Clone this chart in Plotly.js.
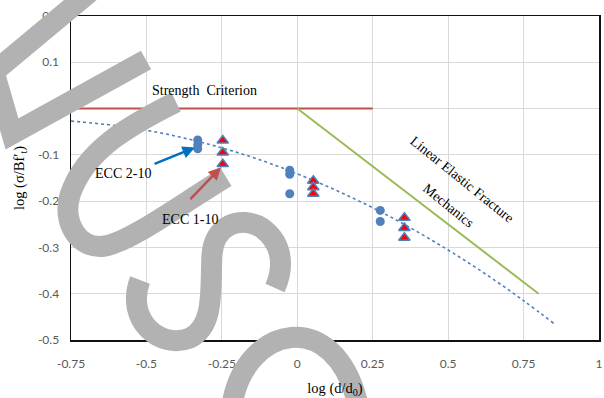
<!DOCTYPE html>
<html>
<head>
<meta charset="utf-8">
<script src="https://cdn.plot.ly/plotly-3.0.1.min.js"></script>
<style>html,body{margin:0;padding:0;background:#fff;}#chart{width:604px;height:398px;}</style>
</head>
<body>
<div id="chart"></div>
<script>
// ECC 2-10 (blue circles)
var ecc2X = [-0.33, -0.33, -0.33, -0.025, -0.025, -0.025, 0.275, 0.275];
var ecc2Y = [-0.068, -0.078, -0.087, -0.133, -0.142, -0.184, -0.220, -0.244];
// ECC 1-10 (red triangles)
var ecc1X = [-0.247, -0.247, -0.247, 0.053, 0.053, 0.053, 0.355, 0.355, 0.355];
var ecc1Y = [-0.069, -0.095, -0.120, -0.156, -0.170, -0.184, -0.236, -0.258, -0.279];
// dotted trend line
var trendX = [-0.75, -0.6, -0.45, -0.3, -0.15, 0, 0.15, 0.3, 0.45, 0.6, 0.75, 0.85];
var trendY = [-0.027, -0.037, -0.053, -0.076, -0.105, -0.141, -0.183, -0.231, -0.286, -0.347, -0.415, -0.464];
// Strength criterion
var strengthX = [-0.75, 0.25];
var strengthY = [0, 0];
// Linear elastic fracture mechanics
var lefmX = [0, 0.8];
var lefmY = [0, -0.4];
// ticks
var xTicks = [-0.75, -0.5, -0.25, 0, 0.25, 0.5, 0.75, 1];
var xTickText = ['-0.75', '-0.5', '-0.25', '0', '0.25', '0.5', '0.75', '1'];
var yTicks = [0.2, 0.1, 0, -0.1, -0.2, -0.3, -0.4, -0.5];
var yTickText = ['0.2', '0.1', '0', '-0.1', '-0.2', '-0.3', '-0.4', '-0.5'];

var M = {l: 71, r: 5, t: 16, b: 58};
var W = 604, H = 398;
var pw = W - M.l - M.r, ph = H - M.t - M.b;
function toPaper(path) {
  var tok = path.trim().split(/\s+/), out = [], nums = [];
  for (var i = 0; i < tok.length; i++) {
    if (/^[A-Za-z]$/.test(tok[i])) { out.push(tok[i]); }
    else {
      nums.push(parseFloat(tok[i]));
      if (nums.length === 2) {
        out.push(((nums[0] - M.l) / pw).toFixed(4) + ',' + ((H - M.b - nums[1]) / ph).toFixed(4));
        nums = [];
      }
    }
  }
  return out.join(' ');
}
// grey watermark strokes (pixel space)
var wm = [
  'M 90 -8 L -6 72 L 12 134 L 146 60',
  'M 176 102 C 130 125 85 150 70 195 C 62 222 78 250 105 246 C 130 242 180 205 226 177',
  'M 140 280 C 125 320 160 350 190 338 C 215 325 210 290 212 255 C 214 225 240 215 262 228 C 285 245 283 270 275 288',
  'M 232 405 C 245 325 335 305 358 405'
];
var shapes = wm.map(function (p) {
  return {type: 'path', path: toPaper(p), xref: 'paper', yref: 'paper', layer: 'above',
    line: {color: 'rgb(178,178,178)', width: 21}, fillcolor: 'rgba(0,0,0,0)'};
});

var serif = 'Liberation Serif, Times New Roman, serif';
var traces = [
  {x: strengthX, y: strengthY, mode: 'lines', line: {color: '#C0504D', width: 2}, hoverinfo: 'skip'},
  {x: lefmX, y: lefmY, mode: 'lines', line: {color: '#9BBB59', width: 2}, hoverinfo: 'skip'},
  {x: trendX, y: trendY, mode: 'lines', line: {color: '#4F81BD', width: 1.6, dash: 'dot', shape: 'spline'}},
  {x: ecc2X, y: ecc2Y, mode: 'markers', marker: {symbol: 'circle', size: 9, color: '#4F81BD'}},
  {x: ecc1X, y: ecc1Y, mode: 'markers', marker: {symbol: 'triangle-up', size: 10, color: '#FF0000', line: {color: '#4F81BD', width: 1.5}}}
];

var annFont = {family: serif, size: 14, color: '#000'};
var layout = {
  width: W, height: H, margin: M, showlegend: false,
  paper_bgcolor: '#fff', plot_bgcolor: '#fff',
  xaxis: {range: [-0.75, 1], tickvals: xTicks, ticktext: xTickText, showgrid: true, gridcolor: '#D9D9D9', gridwidth: 1,
    zeroline: false, showline: true, linecolor: '#111', linewidth: 1.5, mirror: true, ticks: '', ticklabelstandoff: 12,
    tickfont: {family: 'Lato, Liberation Sans, sans-serif', size: 12, color: '#595959'},
    title: {text: 'log (d/d<sub>0</sub>)', font: {family: serif, size: 14.5, color: '#000'}, standoff: 14}},
  yaxis: {range: [-0.5, 0.2], tickvals: yTicks, ticktext: yTickText, showgrid: true, gridcolor: '#D9D9D9', gridwidth: 1,
    zeroline: false, showline: true, linecolor: '#111', linewidth: 1.5, mirror: true, ticks: '', ticklabelstandoff: 8,
    tickfont: {family: 'Lato, Liberation Sans, sans-serif', size: 12, color: '#595959'},
    title: {text: 'log (σ/Bf′<sub>t</sub>)', font: {family: serif, size: 14.5, color: '#000'}, standoff: 10}},
  shapes: shapes,
  annotations: [
    {x: -0.306, y: 0.039, xref: 'x', yref: 'y', text: 'Strength  Criterion', showarrow: false, font: annFont},
    {x: 0.546, y: -0.153, xref: 'x', yref: 'y', text: 'Linear Elastic Fracture', showarrow: false, textangle: 39, font: annFont},
    {x: 0.5, y: -0.21, xref: 'x', yref: 'y', text: 'Mechanics', showarrow: false, textangle: 39, font: annFont},
    {x: -0.578, y: -0.140, xref: 'x', yref: 'y', text: 'ECC 2-10', showarrow: false, font: annFont},
    {x: -0.356, y: -0.240, xref: 'x', yref: 'y', text: 'ECC 1-10', showarrow: false, font: annFont},
    {x: -0.339, y: -0.084, ax: -0.478, ay: -0.121, xref: 'x', yref: 'y', axref: 'x', ayref: 'y', text: '',
      showarrow: true, arrowhead: 2, arrowsize: 1, arrowwidth: 2.5, arrowcolor: '#0070C0'},
    {x: -0.253, y: -0.127, ax: -0.359, ay: -0.199, xref: 'x', yref: 'y', axref: 'x', ayref: 'y', text: '',
      showarrow: true, arrowhead: 2, arrowsize: 1, arrowwidth: 2.5, arrowcolor: '#C0504D'}
  ]
};
Plotly.newPlot('chart', traces, layout, {displayModeBar: false, staticPlot: true});
</script>
</body>
</html>
